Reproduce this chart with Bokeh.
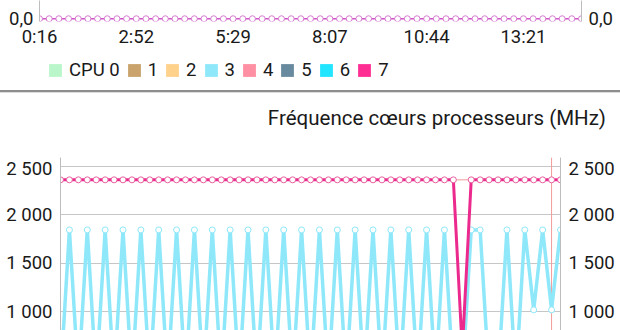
from bokeh.plotting import figure
from bokeh.models import Range1d, FixedTicker, Legend, LegendItem, Span, Div, LinearAxis
from bokeh.layouts import column
from bokeh.embed import file_html
from bokeh.resources import INLINE

# ---------------- data ----------------
cpu_labels = ["CPU 0", "1", "2", "3", "4", "5", "6", "7"]
cpu_colors = ["#b9f6ca", "#c9a36b", "#ffd28c", "#8ee8fa", "#ff8fa3", "#688a9e", "#22e5ff", "#ff2e93"]

sample_index = list(range(57))
time_tick_index = [0, 10, 20, 30, 40, 50]
time_tick_labels = ["0:16", "2:52", "5:29", "8:07", "10:44", "13:21"]

# upper panel (tail of the previous chart): all cores at 0
load_values = [0.0, 0.0, 0.0, 0.0, 0.0, 0.0, 0.0, 0.0, 0.0, 0.0,
               0.0, 0.0, 0.0, 0.0, 0.0, 0.0, 0.0, 0.0, 0.0, 0.0,
               0.0, 0.0, 0.0, 0.0, 0.0, 0.0, 0.0, 0.0, 0.0, 0.0,
               0.0, 0.0, 0.0, 0.0, 0.0, 0.0, 0.0, 0.0, 0.0, 0.0,
               0.0, 0.0, 0.0, 0.0, 0.0, 0.0, 0.0, 0.0, 0.0, 0.0,
               0.0, 0.0, 0.0, 0.0, 0.0, 0.0, 0.0]

# core frequencies (MHz)
cpu3_mhz = [300, 1844, 300, 1844, 300, 1844, 300, 1844, 300, 1844,
            300, 1844, 300, 1844, 300, 1844, 300, 1844, 300, 1844,
            300, 1844, 300, 1844, 300, 1844, 300, 1844, 300, 1844,
            300, 1844, 300, 1844, 300, 1844, 300, 1844, 300, 1844,
            300, 1844, 300, 1844, 300, 300, 1844, 1844, 300, 300,
            1844, 300, 1844, 1017, 1844, 1017, 1844]
cpu7_mhz = [2362, 2362, 2362, 2362, 2362, 2362, 2362, 2362, 2362, 2362,
            2362, 2362, 2362, 2362, 2362, 2362, 2362, 2362, 2362, 2362,
            2362, 2362, 2362, 2362, 2362, 2362, 2362, 2362, 2362, 2362,
            2362, 2362, 2362, 2362, 2362, 2362, 2362, 2362, 2362, 2362,
            2362, 2362, 2362, 2362, 2362, 600, 2362, 2362, 2362, 2362,
            2362, 2362, 2362, 2362, 2362, 2362, 2362]
highlight_index = 55

freq_ticks = [0, 500, 1000, 1500, 2000, 2500]
freq_tick_labels = ["0", "500", "1 000", "1 500", "2 000", "2 500"]
chart_title = "Fréquence cœurs processeurs (MHz)"

FONT = "Roboto"
FS = "18.5px"
TXT = "#1a1a1a"
AXIS = "#bdbdbd"
GRID = "#c6c6c6"


def style_axis(ax, standoff):
    ax.axis_line_color = AXIS
    ax.axis_line_width = 1
    ax.major_tick_line_color = None
    ax.minor_tick_line_color = None
    ax.major_tick_out = 0
    ax.major_tick_in = 0
    ax.minor_tick_out = 0
    ax.minor_tick_in = 0
    ax.major_label_text_font = FONT
    ax.major_label_text_font_size = FS
    ax.major_label_text_color = TXT
    ax.major_label_standoff = standoff


# ---------------- upper panel (bottom edge of the previous chart) ----------------
top = figure(width=620, height=50, x_range=Range1d(0, 56), y_range=Range1d(-0.15, 1.0),
             output_backend="svg", toolbar_location=None, frame_align=False,
             min_border_left=39, min_border_right=39, min_border_top=0, min_border_bottom=0)
top.outline_line_color = None
top.grid.visible = False

top.yaxis.ticker = FixedTicker(ticks=[0])
top.yaxis.major_label_overrides = {0: "0,0"}
style_axis(top.yaxis[0], 6)
r_ax = LinearAxis(ticker=FixedTicker(ticks=[0]), major_label_overrides={0: "0,0"})
style_axis(r_ax, 7)
top.add_layout(r_ax, "right")

top.xaxis.ticker = FixedTicker(ticks=time_tick_index)
top.xaxis.major_label_overrides = {i: s for i, s in zip(time_tick_index, time_tick_labels)}
style_axis(top.xaxis[0], 4)
top.xaxis.axis_line_color = None

top.line(sample_index, load_values, line_color="#cf55c6", line_width=1.5)
top.scatter(sample_index, load_values, marker="circle", size=6, fill_color="white",
            line_color="#d67ad0", line_width=1)

# ---------------- legend strip ----------------
leg = figure(width=620, height=40, x_range=Range1d(0, 1), y_range=Range1d(0, 1),
             output_backend="svg", toolbar_location=None, frame_align=False,
             min_border_left=0, min_border_right=0, min_border_top=0, min_border_bottom=0)
leg.axis.visible = False
leg.grid.visible = False
leg.outline_line_color = None
items = []
for lab, col in zip(cpu_labels, cpu_colors):
    # legend proxy: a swatch kept outside the visible range
    r = leg.quad(left=[2], right=[3], top=[3], bottom=[2], fill_color=col, line_color=None)
    items.append(LegendItem(label=lab, renderers=[r]))
legend = Legend(items=items, orientation="horizontal", location=(47, 9),
                glyph_width=16, glyph_height=16, label_standoff=6, spacing=6,
                label_width=0, padding=0, margin=0, border_line_color=None,
                background_fill_alpha=0,
                label_text_font=FONT, label_text_font_size=FS, label_text_color=TXT)
leg.add_layout(legend, "center")

divider = Div(text="", width=620, height=3, margin=0,
              styles={"background": "linear-gradient(to bottom, #8e8e8e 0px, #8e8e8e 2px, #dcdcdc 2px, #dcdcdc 3px)"})

title_div = Div(text=chart_title, width=620, height=64, margin=0,
                styles={"font-family": FONT, "font-size": "20.5px", "color": TXT,
                        "text-align": "right", "box-sizing": "border-box",
                        "padding-right": "14px", "padding-top": "13px", "line-height": "24px",
                        "white-space": "nowrap"})

# ---------------- frequency panel ----------------
bot = figure(width=620, height=173, x_range=Range1d(0, 56), y_range=Range1d(803.5, 2593),
             output_backend="svg", toolbar_location=None, frame_align=False,
             min_border_left=60, min_border_right=60, min_border_top=0, min_border_bottom=0)
bot.outline_line_color = None
bot.xaxis.visible = False
bot.xgrid.visible = False
bot.ygrid.ticker = FixedTicker(ticks=freq_ticks)
bot.ygrid.grid_line_color = GRID
bot.ygrid.grid_line_width = 1

fmt = {t: s for t, s in zip(freq_ticks, freq_tick_labels)}
bot.yaxis.ticker = FixedTicker(ticks=freq_ticks)
bot.yaxis.major_label_overrides = fmt
style_axis(bot.yaxis[0], 8)
r_ax2 = LinearAxis(ticker=FixedTicker(ticks=freq_ticks), major_label_overrides=fmt)
style_axis(r_ax2, 8)
bot.add_layout(r_ax2, "right")

hl_color = "#f29a9a"
bot.add_layout(Span(location=highlight_index, dimension="height", line_color=hl_color,
                    line_width=1, level="underlay"))
bot.add_layout(Span(location=cpu7_mhz[highlight_index], dimension="width", line_color=hl_color,
                    line_width=1, level="underlay"))

bot.line(sample_index, cpu3_mhz, line_color=cpu_colors[3], line_width=3.5)
bot.scatter(sample_index, cpu3_mhz, marker="circle", size=6, fill_color="white",
            line_color=cpu_colors[3], line_width=1)
bot.line(sample_index, cpu7_mhz, line_color="#ec2a8e", line_width=3)
bot.scatter(sample_index, cpu7_mhz, marker="circle", size=6, fill_color="white",
            line_color="#e8609f", line_width=1)

layout = column(top, leg, divider, title_div, bot, spacing=0)
open("out.html", "w").write(file_html(layout, INLINE))
